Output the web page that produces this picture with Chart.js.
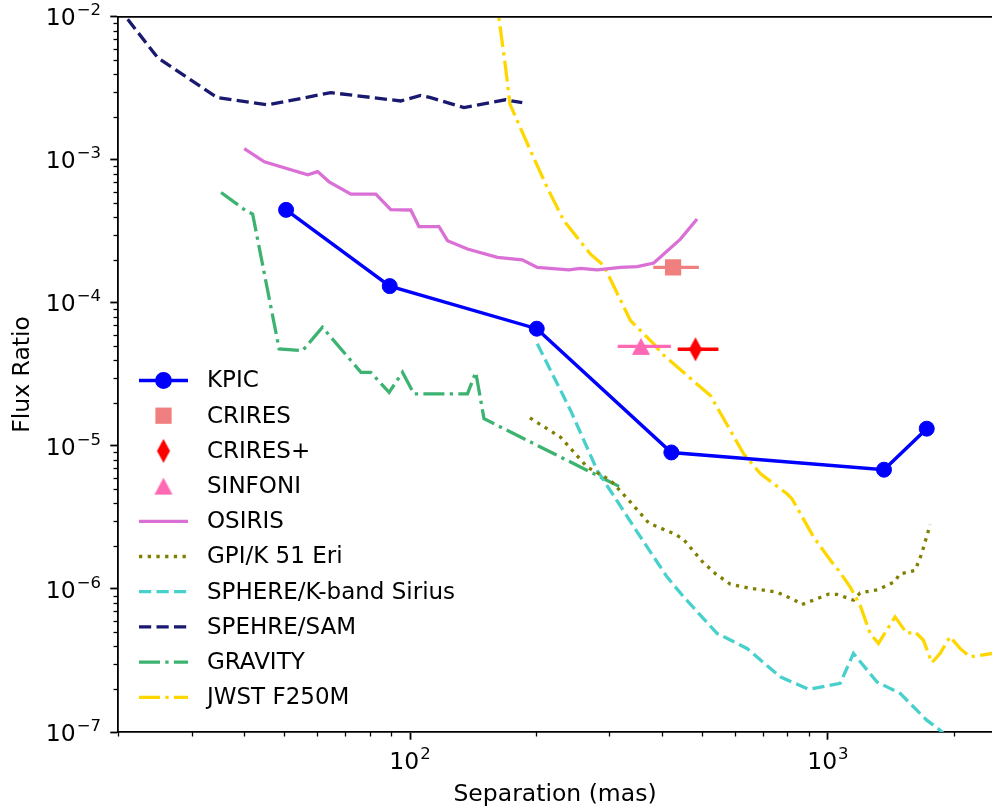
<!DOCTYPE html>
<html>
<head>
<meta charset="utf-8">
<script src="https://cdn.jsdelivr.net/npm/chart.js@4.4.1/dist/chart.umd.min.js"></script>
<style>
  html, body { margin: 0; padding: 0; background: #fff; overflow: hidden; }
  canvas { display: block; }
</style>
</head>
<body>
<canvas id="fluxChart" width="992" height="809"></canvas>
<script>
// separations in mas, flux ratios (contrast)
const kpicSep = [50.5, 89.4, 201, 422, 1362, 1724];
const kpicFlux = [4.47e-4, 1.31e-4, 6.6e-5, 9.0e-6, 6.82e-6, 1.32e-5];

const crires = { sep: 426, flux: 1.77e-4, lo: 382, hi: 491 };
const criresPlus = { sep: 482, flux: 4.74e-5, lo: 437, hi: 547 };
const sinfoni = { sep: 357, flux: 4.97e-5, lo: 314, hi: 421 };

const osirisSep = [40.1, 44.8, 56.9, 60.1, 64.0, 72.2, 82.8, 89.9, 100.4, 105, 117.3, 122.9, 137.2, 161.8, 185.6, 201.6, 239.9, 255.9, 280.5, 318.9, 349.6, 383, 443.6, 486.3];
const osirisFlux = [1.20e-3, 9.68e-4, 7.85e-4, 8.28e-4, 7.02e-4, 5.76e-4, 5.76e-4, 4.48e-4, 4.46e-4, 3.42e-4, 3.41e-4, 2.72e-4, 2.38e-4, 2.08e-4, 2.0e-4, 1.77e-4, 1.70e-4, 1.74e-4, 1.70e-4, 1.77e-4, 1.79e-4, 1.90e-4, 2.79e-4, 3.86e-4];

const gpiSep = [193.6, 229.2, 265.5, 301.8, 336.9, 372.6, 431.5, 451.7, 500, 537.8, 584, 651.8, 755.3, 827.6, 866.8, 1003, 1051, 1151, 1194, 1321, 1448, 1483, 1617, 1677, 1757];
const gpiFlux = [1.57e-5, 1.15e-5, 7.11e-6, 5.74e-6, 4.05e-6, 2.89e-6, 2.41e-6, 2.21e-6, 1.56e-6, 1.28e-6, 1.08e-6, 1.01e-6, 9.5e-7, 8.44e-7, 7.78e-7, 9.19e-7, 9.17e-7, 8.35e-7, 9.38e-7, 9.9e-7, 1.13e-6, 1.27e-6, 1.35e-6, 1.77e-6, 2.82e-6];

const sphereKSep = [201.6, 242.2, 280.5, 355.9, 412.3, 451.7, 542.8, 640.3, 769, 898.7, 1070, 1151, 1310, 1489, 1724, 1855, 2071];
const sphereKFlux = [5.17e-5, 1.77e-5, 6.74e-6, 2.31e-6, 1.21e-6, 8.80e-7, 4.89e-7, 3.84e-7, 2.43e-7, 1.99e-7, 2.19e-7, 3.54e-7, 2.24e-7, 1.86e-7, 1.21e-7, 1.03e-7, 7.5e-8];

const samSep = [21.1, 24.9, 34.6, 45.6, 64.6, 95, 106, 112, 134.6, 169, 185.6];
const samFlux = [9.6e-3, 5.17e-3, 2.72e-3, 2.42e-3, 2.95e-3, 2.58e-3, 2.82e-3, 2.72e-3, 2.32e-3, 2.63e-3, 2.51e-3];

const gravitySep = [35.3, 40.5, 42.0, 48.6, 55.3, 61.7, 76.3, 80.5, 89.1, 95.9, 102.2, 137.2, 143.6, 150.3, 280.5, 318.9];
const gravityFlux = [5.91e-4, 4.40e-4, 4.18e-4, 4.77e-5, 4.64e-5, 6.75e-5, 3.27e-5, 3.27e-5, 2.37e-5, 3.27e-5, 2.31e-5, 2.31e-5, 3.27e-5, 1.55e-5, 6.22e-6, 5.15e-6];

const jwstSep = [160, 169.3, 173.4, 194.4, 213, 233.4, 270.3, 290.9, 336.9, 383, 401, 523.2, 628.5, 689, 798, 820, 923.9, 1022, 1060, 1131, 1194, 1262, 1321, 1448, 1545, 1617, 1693, 1773, 1855, 1960, 2071, 2188, 2470];
const jwstFlux = [1.5e-2, 4.41e-3, 2.45e-3, 1.15e-3, 6.40e-4, 3.75e-4, 2.19e-4, 1.82e-4, 7.52e-5, 5.17e-5, 4.40e-5, 2.25e-5, 8.82e-6, 6.4e-6, 4.63e-6, 4.28e-6, 2.31e-6, 1.54e-6, 1.35e-6, 1.03e-6, 7.70e-7, 4.89e-7, 4.16e-7, 6.38e-7, 4.89e-7, 5.0e-7, 4.38e-7, 3.05e-7, 3.54e-7, 4.63e-7, 3.84e-7, 3.35e-7, 3.54e-7];

const xMin = 20, xMax = 2470;
const yMin = 1e-7, yMax = 1e-2;

const FONT = "DejaVu Sans";
const LW = 3.3;

function pts(xs, ys) {
    return xs.map((x, i) => ({ x: x, y: ys[i] }));
}

// thin diamond and triangle markers, like matplotlib 'd' and '^'
function markerCanvas(kind, color) {
    const c = document.createElement("canvas");
    let g;
    if (kind == "thin_diamond") {
        c.width = 16; c.height = 26;
        g = c.getContext("2d");
        g.fillStyle = color;
        g.beginPath();
        g.moveTo(8, 1); g.lineTo(14.5, 13); g.lineTo(8, 25); g.lineTo(1.5, 13);
    } else {
        c.width = 20; c.height = 19;
        g = c.getContext("2d");
        g.fillStyle = color;
        g.beginPath();
        g.moveTo(10, 1); g.lineTo(19, 18); g.lineTo(1, 18);
    }
    g.closePath();
    g.fill();
    return c;
}

const diamondImg = markerCanvas("thin_diamond", "#ff0000");
const triangleImg = markerCanvas("triangle", "#ff69b4");

function errBar(item, color) {
    return {
        label: "",
        noLegend: true,
        data: [{ x: item.lo, y: item.flux }, { x: item.hi, y: item.flux }],
        borderColor: color,
        borderWidth: LW,
        pointRadius: 0,
        showLine: true,
    };
}

function lineSet(label, xs, ys, color, dash) {
    return {
        label: label,
        data: pts(xs, ys),
        borderColor: color,
        backgroundColor: color,
        borderWidth: LW,
        borderDash: dash,
        pointRadius: 0,
        showLine: true,
        tension: 0,
    };
}

const datasets = [
    {
        label: "KPIC",
        data: pts(kpicSep, kpicFlux),
        borderColor: "#0000ff",
        backgroundColor: "#0000ff",
        borderWidth: 3.5,
        pointStyle: "circle",
        pointRadius: 7.5,
        pointBorderWidth: 1,
        showLine: true,
    },
    {
        label: "CRIRES",
        data: [{ x: crires.sep, y: crires.flux }],
        borderColor: "#f08080",
        backgroundColor: "#f08080",
        pointStyle: "rect",
        pointRadius: 11.5,
        pointBorderWidth: 0,
        showLine: false,
    },
    {
        label: "CRIRES+",
        data: [{ x: criresPlus.sep, y: criresPlus.flux }],
        borderColor: "#ff0000",
        backgroundColor: "#ff0000",
        pointStyle: diamondImg,
        pointRadius: 10,
        showLine: false,
    },
    {
        label: "SINFONI",
        data: [{ x: sinfoni.sep, y: sinfoni.flux }],
        borderColor: "#ff69b4",
        backgroundColor: "#ff69b4",
        pointStyle: triangleImg,
        pointRadius: 10,
        showLine: false,
    },
    errBar(crires, "#f08080"),
    errBar(criresPlus, "#ff0000"),
    errBar(sinfoni, "#ff69b4"),
    lineSet("OSIRIS", osirisSep, osirisFlux, "#da70d6", []),
    lineSet("GPI/K 51 Eri", gpiSep, gpiFlux, "#808000", [3.3, 5.4]),
    lineSet("SPHERE/K-band Sirius", sphereKSep, sphereKFlux, "#48d1cc", [12.2, 5.3]),
    lineSet("SPEHRE/SAM", samSep, samFlux, "#191970", [12.2, 5.3]),
    lineSet("GRAVITY", gravitySep, gravityFlux, "#3cb371", [21, 5.3, 3.3, 5.3]),
    lineSet("JWST F250M", jwstSep, jwstFlux, "#ffd700", [21, 5.3, 3.3, 5.3]),
];

function isDecade(v) {
    const e = Math.log10(v);
    return Math.abs(e - Math.round(e)) < 1e-6;
}

function expText(v) {
    const e = Math.round(Math.log10(v));
    return (e < 0 ? "\u2212" : "") + Math.abs(e);
}

function logTicks(lo, hi) {
    const out = [];
    for (let e = Math.floor(Math.log10(lo)); e <= Math.ceil(Math.log10(hi)); e++) {
        for (let m = 1; m < 10; m++) {
            const v = m * Math.pow(10, e);
            if (v >= lo * 0.9999 && v <= hi * 1.0001) out.push({ value: v, major: m == 1 });
        }
    }
    return out;
}

const MAIN_FONT = "23.5px '" + FONT + "'";
const SUP_FONT = "16.5px '" + FONT + "'";

// "10" with a raised exponent, like matplotlib mathtext
function powerLabel(ctx, v, x, baseline, align) {
    const sup = expText(v);
    ctx.font = MAIN_FONT;
    const w1 = ctx.measureText("10").width;
    ctx.font = SUP_FONT;
    const w2 = ctx.measureText(sup).width + 1;
    let x0 = align == "right" ? x - w1 - w2 : x - (w1 + w2) / 2;
    ctx.textAlign = "left";
    ctx.textBaseline = "alphabetic";
    ctx.font = MAIN_FONT;
    ctx.fillText("10", x0, baseline);
    ctx.font = SUP_FONT;
    ctx.fillText(sup, x0 + w1 + 1, baseline - 10);
}

// minor ticks, tick labels, top spine and legend
const extras = {
    id: "extras",
    afterDraw(chart) {
        const ctx = chart.ctx;
        const a = chart.chartArea;
        const xs = chart.scales.x;
        const ys = chart.scales.y;
        ctx.save();
        ctx.strokeStyle = "#000";
        ctx.fillStyle = "#000";
        ctx.lineWidth = 1.3;
        xs.ticks.forEach((t) => {
            const px = xs.getPixelForValue(t.value);
            if (isDecade(t.value)) {
                powerLabel(ctx, t.value, px, a.bottom + 37, "center");
                return;
            }
            const rx = Math.round(px) + 0.5;
            ctx.beginPath();
            ctx.moveTo(rx, a.bottom);
            ctx.lineTo(rx, a.bottom + 4.5);
            ctx.stroke();
        });
        ys.ticks.forEach((t) => {
            const py = ys.getPixelForValue(t.value);
            if (isDecade(t.value)) {
                powerLabel(ctx, t.value, a.left - 17, py + 8.6, "right");
                return;
            }
            const ry = Math.round(py) + 0.5;
            ctx.beginPath();
            ctx.moveTo(a.left, ry);
            ctx.lineTo(a.left - 4.5, ry);
            ctx.stroke();
        });
        ctx.lineWidth = 1.8;
        ctx.beginPath();
        ctx.moveTo(a.left, a.top);
        ctx.lineTo(a.right, a.top);
        ctx.stroke();

        // legend
        let y = 380.5;
        chart.data.datasets.forEach((ds) => {
            if (ds.noLegend) return;
            if (ds.showLine) {
                ctx.save();
                ctx.strokeStyle = ds.borderColor;
                ctx.lineWidth = ds.borderWidth;
                ctx.setLineDash(ds.borderDash || []);
                ctx.beginPath();
                ctx.moveTo(139, y);
                ctx.lineTo(188, y);
                ctx.stroke();
                ctx.restore();
            }
            if (ds.pointRadius > 0) {
                ctx.save();
                ctx.fillStyle = ds.backgroundColor;
                ctx.strokeStyle = ds.borderColor;
                Chart.helpers.drawPoint(ctx, {
                    pointStyle: ds.pointStyle,
                    radius: ds.pointRadius,
                    borderWidth: ds.pointBorderWidth || 0,
                    rotation: 0,
                }, 163.5, y);
                ctx.restore();
            }
            ctx.fillStyle = "#000";
            ctx.font = "23px '" + FONT + "'";
            ctx.textBaseline = "middle";
            ctx.textAlign = "left";
            ctx.fillText(ds.label, 207, y + 1);
            y += 35.2;
        });
        ctx.restore();
    },
};

const tickGrid = {
    drawOnChartArea: false,
    drawTicks: true,
    tickLength: 7.7,
    tickWidth: 1.8,
    tickColor: (c) => (c.tick && isDecade(c.tick.value) ? "#000" : "rgba(0,0,0,0)"),
};

new Chart(document.getElementById("fluxChart"), {
    type: "scatter",
    data: { datasets: datasets },
    plugins: [extras],
    options: {
        responsive: false,
        animation: false,
        devicePixelRatio: 1,
        layout: { autoPadding: false, padding: { top: 16, right: 0, left: 0, bottom: 0 } },
        plugins: {
            legend: { display: false },
            tooltip: { enabled: false },
        },
        scales: {
            x: {
                type: "logarithmic",
                min: xMin,
                max: xMax,
                afterBuildTicks: (s) => { s.ticks = logTicks(xMin, xMax); },
                afterFit: (s) => { s.height = 77; s.paddingLeft = 0; s.paddingRight = 0; },
                ticks: {
                    autoSkip: false,
                    maxRotation: 0,
                    padding: 6,
                    font: { family: FONT, size: 23 },
                    callback: () => "",
                },
                grid: tickGrid,
                border: { color: "#000", width: 1.8 },
                title: {
                    display: true,
                    text: "Separation (mas)",
                    color: "#000",
                    font: { family: FONT, size: 23.5 },
                    padding: { top: 0, bottom: 0 },
                },
            },
            y: {
                type: "logarithmic",
                min: yMin,
                max: yMax,
                afterBuildTicks: (s) => { s.ticks = logTicks(yMin, yMax); },
                afterFit: (s) => { s.width = 118; },
                ticks: {
                    autoSkip: false,
                    padding: 3,
                    font: { family: FONT, size: 23 },
                    callback: () => "",
                },
                grid: tickGrid,
                border: { color: "#000", width: 1.8 },
                title: {
                    display: true,
                    text: "Flux Ratio",
                    color: "#000",
                    font: { family: FONT, size: 23.5 },
                    padding: { top: 9, bottom: 0 },
                },
            },
        },
    },
});
</script>
</body>
</html>
